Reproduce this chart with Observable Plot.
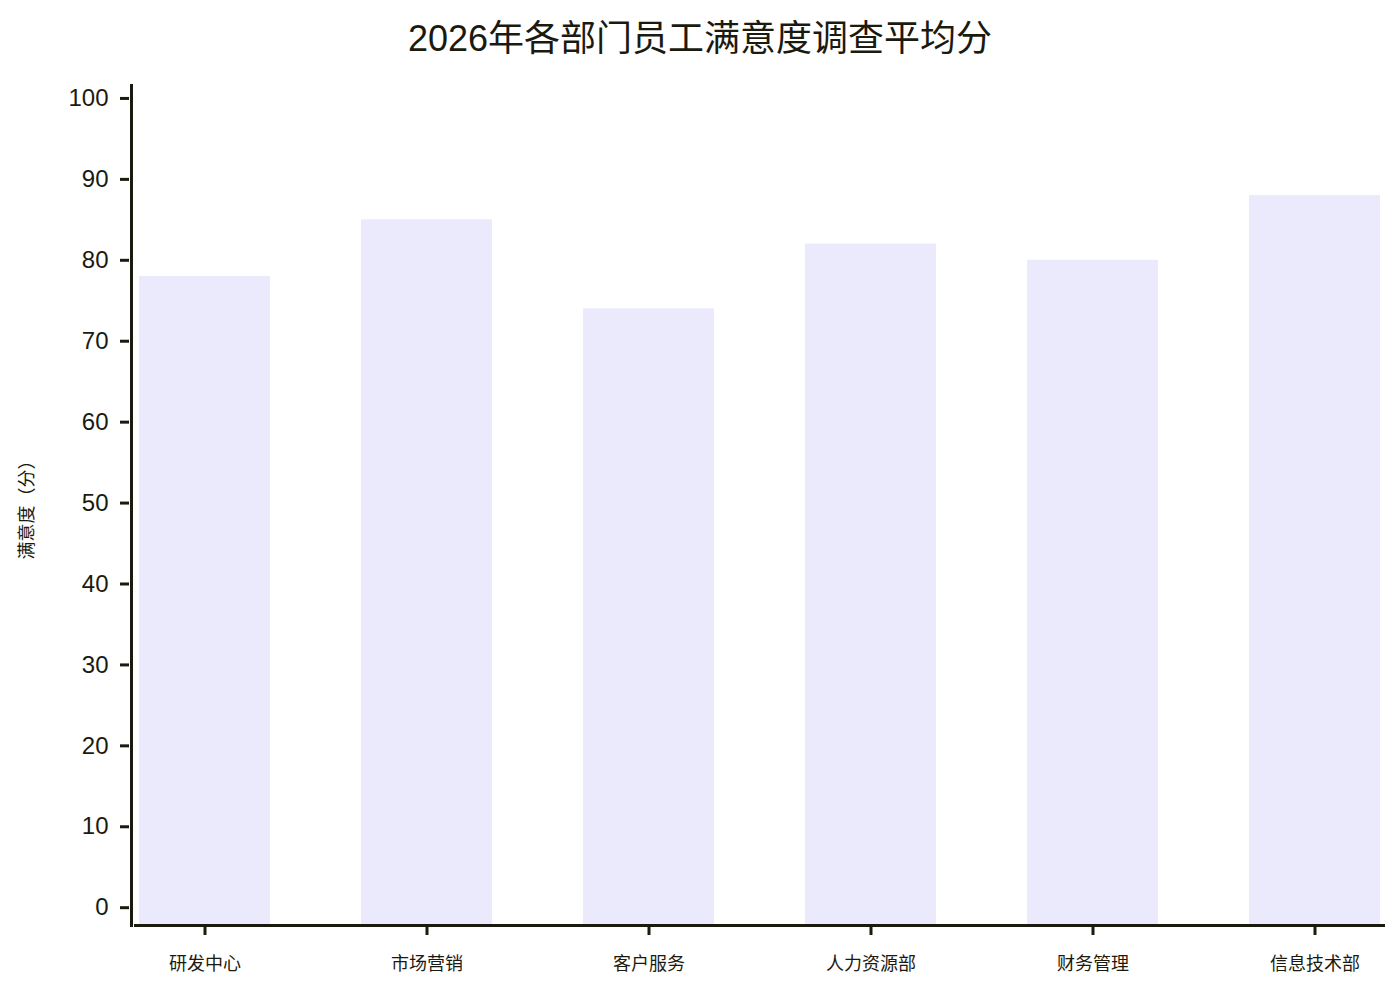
<!DOCTYPE html>
<html>
<head>
<meta charset="utf-8">
<script src="https://cdn.jsdelivr.net/npm/d3@7"></script>
<script src="https://cdn.jsdelivr.net/npm/@observablehq/plot@0.6"></script>
<style>
  body { margin: 0; background: #fff; font-family: "Liberation Sans", "Noto Sans CJK SC", sans-serif; }
  #title { height: 70px; width: 1400px; text-align: center; font-size: 36px; line-height: 78px; color: #1b1a0f; }
  svg { display: block; }
</style>
</head>
<body>
<div id="title"></div>
<div id="chart"></div>
<script>
const titleText = "2026年各部门员工满意度调查平均分";
const yLabel = "满意度（分）";
const departments = ["研发中心", "市场营销", "客户服务", "人力资源部", "财务管理", "信息技术部"];
const scores = [78, 85, 74, 82, 80, 88];
const yTicks = [0, 10, 20, 30, 40, 50, 60, 70, 80, 90, 100];

document.getElementById("title").textContent = titleText;

const data = departments.map((d, i) => ({dept: d, score: scores[i]}));
const ink = "#1b1a0f";
const yMin = -2.2, yMax = 101.6;

const chart = Plot.plot({
  width: 1400,
  height: 930,
  marginTop: 15,
  marginBottom: 75,
  marginLeft: 135,
  marginRight: 17,
  style: {fontFamily: "Liberation Sans, Noto Sans CJK SC, sans-serif", color: ink, background: "#fff"},
  x: {domain: departments, paddingInner: 0.41, paddingOuter: 0.01, label: null},
  y: {domain: [yMin, yMax], label: null},
  marks: [
    Plot.barY(data, {x: "dept", y1: yMin, y2: "score", fill: "#ebe9fc"}),
    Plot.axisY({ticks: yTicks, tickSize: 9, tickPadding: 12, dx: -6, strokeWidth: 3, stroke: ink, fontSize: 24, label: null}),
    Plot.text([yLabel], {frameAnchor: "left", textAnchor: "middle", dx: -108, rotate: -90, fontSize: 18, fill: ink}),
    Plot.axisX({tickSize: 10, tickPadding: 22, strokeWidth: 3, stroke: ink, fontSize: 18, label: null}),
    Plot.frame({anchor: "left", dx: -4, stroke: ink, strokeWidth: 3}),
    Plot.frame({anchor: "bottom", stroke: ink, strokeWidth: 3})
  ]
});
document.getElementById("chart").appendChild(chart);
</script>
</body>
</html>
